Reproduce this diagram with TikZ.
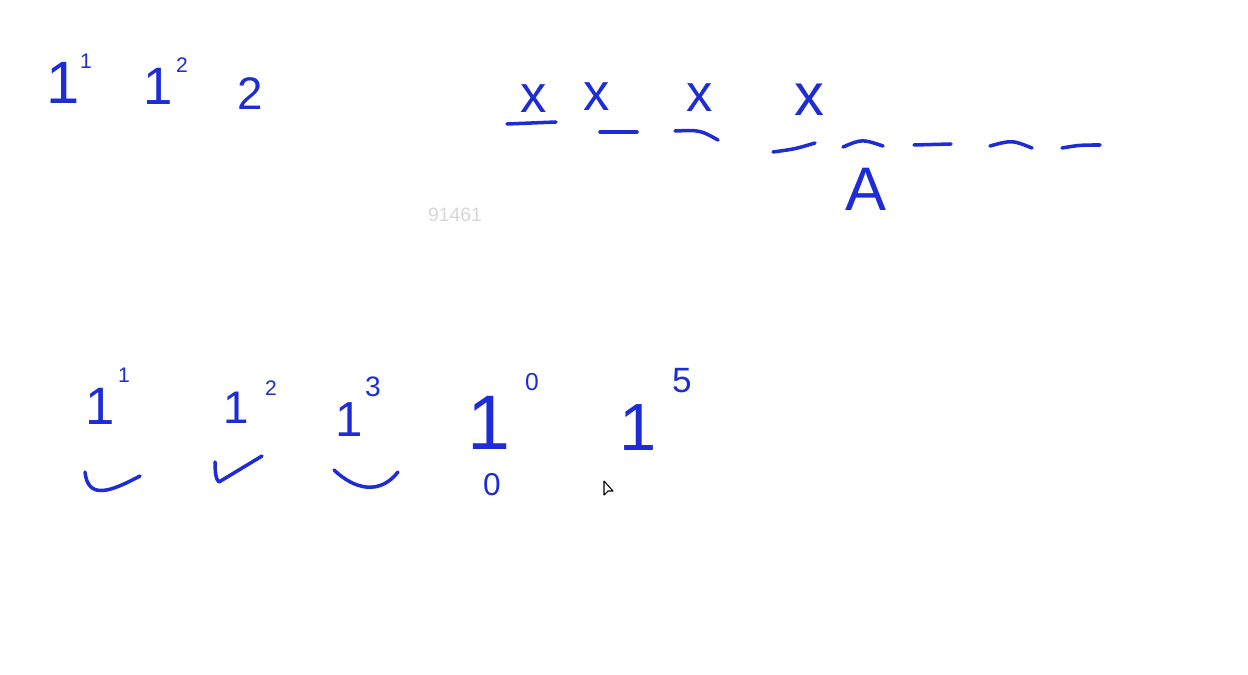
\documentclass[tikz,border=0pt]{standalone}
\usepackage{fontspec}
\setmainfont{Liberation Sans}
\usepackage{tikz}
\definecolor{pen}{RGB}{30,44,214}
\definecolor{faint}{RGB}{214,214,214}
\tikzstyle{stroke} = [line width=2pt, draw=pen, line cap=round, line join=round]
\tikzstyle{hand} = [text=pen, inner sep=0pt, anchor=center]
\newcommand{\fs}[1]{\fontsize{#1}{#1}\selectfont}

\begin{document}
\begin{tikzpicture}[x=0.02cm, y=-0.02cm]
  \useasboundingbox (0,0) rectangle (1248,675);

  % top left
  \node[hand, font=\fs{34}] (topone) at (63,83) {1};
  \node[hand, font=\fs{12}] (topsupa) at (86,61) {1};
  \node[hand, font=\fs{30}] (toptwo) at (158,86) {1};
  \node[hand, font=\fs{12}] (topsupb) at (182,65) {2};
  \node[hand, font=\fs{26}] (twotop) at (250,94) {2};

  \node[text=faint, font=\fs{11}, inner sep=0pt] (wm) at (455,215) {91461};

  % slots
  \node[hand, font=\fs{30}] (xa) at (534,99) {x};
  \node[hand, font=\fs{30}] (xb) at (597,97) {x};
  \node[hand, font=\fs{30}] (xc) at (700,98) {x};
  \node[hand, font=\fs{34}] (xd) at (809,100) {x};
  \draw[stroke] (507,124) -- (556,122);
  \draw[stroke] (600,132) -- (637,132);
  \draw[stroke] (675,131) .. controls (700,130) .. (718,140);
  \draw[stroke] (773,152) .. controls (795,149) .. (815,143);
  \draw[stroke] (843,147) .. controls (862,139) .. (883,146);
  \draw[stroke] (914,145) -- (951,144);
  \draw[stroke] (990,146) .. controls (1012,140) .. (1032,148);
  \draw[stroke] (1062,148) .. controls (1080,145) .. (1100,145);
  \node[hand, font=\fs{35}] (alet) at (866,189) {A};

  % bottom row
  \node[hand, font=\fs{30}] (ba) at (100,406) {1};
  \node[hand, font=\fs{12}] (basup) at (124,375) {1};
  \node[hand, font=\fs{26}] (bb) at (236,408) {1};
  \node[hand, font=\fs{12}] (bbsup) at (271,388) {2};
  \node[hand, font=\fs{28}] (bc) at (349,420) {1};
  \node[hand, font=\fs{16}] (bcsup) at (373,387) {3};
  \node[hand, font=\fs{44}] (bd) at (489,423) {1};
  \node[hand, font=\fs{14}] (bdsup) at (532,382) {0};
  \node[hand, font=\fs{18}] (bzero) at (492,485) {0};
  \node[hand, font=\fs{38}] (be) at (638,428) {1};
  \node[hand, font=\fs{20}] (besup) at (682,381) {5};

  \draw[stroke] (85,472) .. controls (88,500) and (110,492) .. (140,476);
  \draw[stroke] (215,462) .. controls (215,472) and (216,480) .. (219,482) -- (262,456);
  \draw[stroke] (334,470) .. controls (355,490) and (380,495) .. (398,472);

  % pointer
  \draw[black, line width=0.6pt, fill=white, line join=round] (604,481) -- (604,495) -- (608,491) -- (613,491) -- cycle;
\end{tikzpicture}
\end{document}
